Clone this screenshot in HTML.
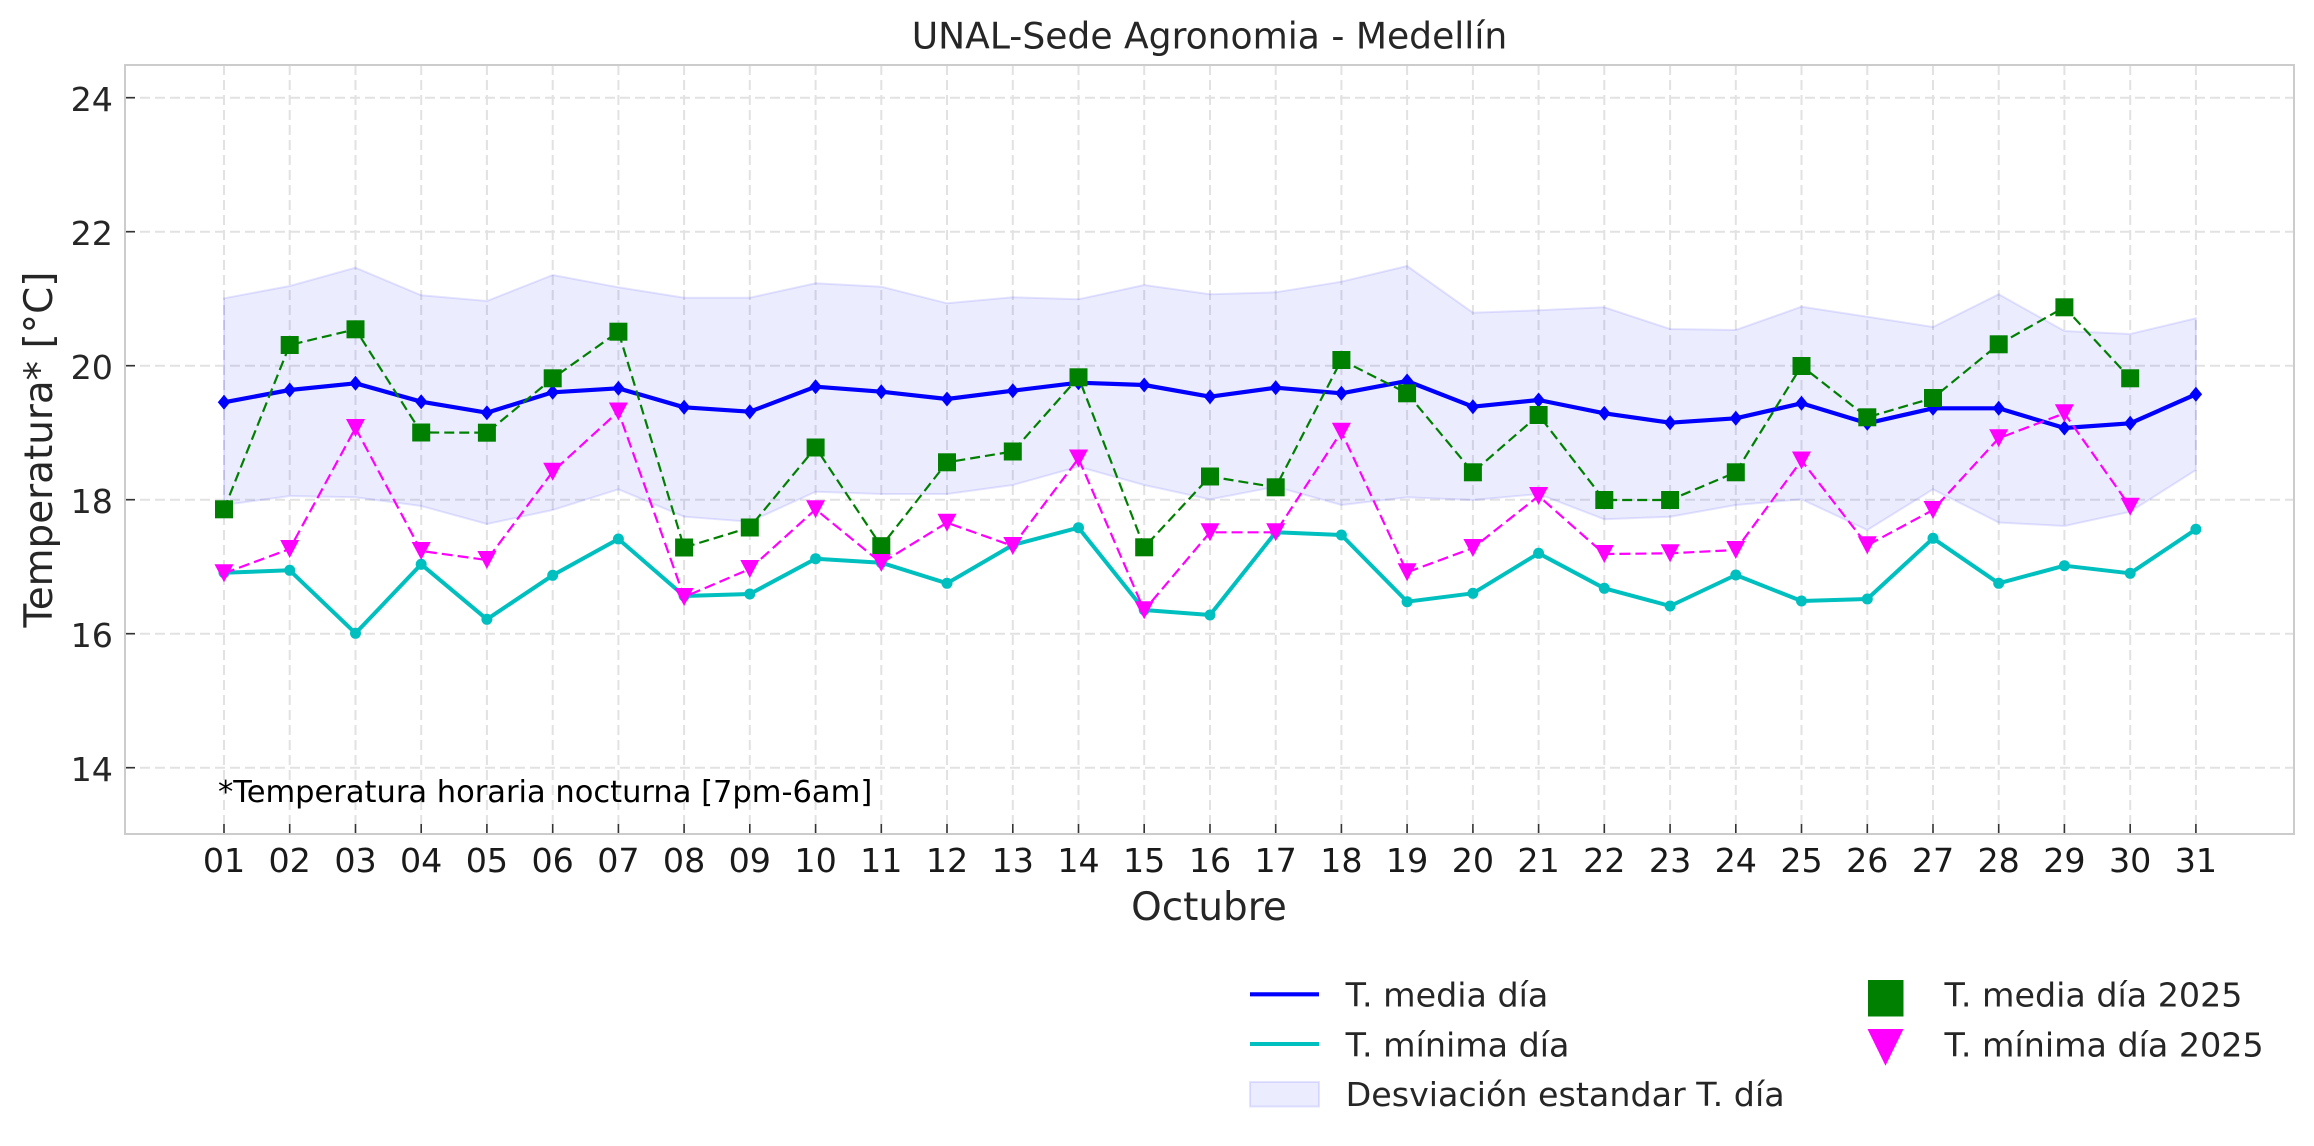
<!DOCTYPE html>
<html>
<head>
<meta charset="utf-8">
<style>
html,body{margin:0;padding:0;background:#fff;}
svg{display:block;}
text{font-family:"DejaVu Sans","Liberation Sans",sans-serif;}
</style>
</head>
<body>
<svg width="2314" height="1146" viewBox="0 0 2314 1146" xmlns="http://www.w3.org/2000/svg">
<defs>
  <marker id="mb" markerUnits="userSpaceOnUse" markerWidth="20" markerHeight="20" viewBox="-10 -10 20 20" refX="0" refY="0" overflow="visible"><path d="M0,-7.5 L6.2,0 L0,7.5 L-6.2,0Z" fill="#0000ff"/></marker>
  <marker id="mc" markerUnits="userSpaceOnUse" markerWidth="20" markerHeight="20" viewBox="-10 -10 20 20" refX="0" refY="0" overflow="visible"><circle cx="0" cy="0" r="5.5" fill="#00bfbf"/></marker>
  <marker id="mg" markerUnits="userSpaceOnUse" markerWidth="20" markerHeight="20" viewBox="-10 -10 20 20" refX="0" refY="0" overflow="visible"><rect x="-9" y="-9" width="18" height="18" fill="#008000"/></marker>
  <marker id="mm" markerUnits="userSpaceOnUse" markerWidth="20" markerHeight="20" viewBox="-10 -10 20 20" refX="0" refY="0" overflow="visible"><path d="M-9.5,-9 L9.5,-9 L0,9Z" fill="#ff00ff"/></marker>
</defs>
<rect x="0" y="0" width="2314" height="1146" fill="#fff"/>

<!-- grid -->
<g stroke="#e2e2e2" stroke-width="2" stroke-dasharray="10 5" fill="none">
  <line x1="125" y1="97.7" x2="2294" y2="97.7"/>
  <line x1="125" y1="231.7" x2="2294" y2="231.7"/>
  <line x1="125" y1="365.7" x2="2294" y2="365.7"/>
  <line x1="125" y1="499.7" x2="2294" y2="499.7"/>
  <line x1="125" y1="633.7" x2="2294" y2="633.7"/>
  <line x1="125" y1="767.7" x2="2294" y2="767.7"/>
  <line x1="224" y1="65" x2="224" y2="834"/>
  <line x1="289.7" y1="65" x2="289.7" y2="834"/>
  <line x1="355.5" y1="65" x2="355.5" y2="834"/>
  <line x1="421.2" y1="65" x2="421.2" y2="834"/>
  <line x1="486.9" y1="65" x2="486.9" y2="834"/>
  <line x1="552.7" y1="65" x2="552.7" y2="834"/>
  <line x1="618.4" y1="65" x2="618.4" y2="834"/>
  <line x1="684.1" y1="65" x2="684.1" y2="834"/>
  <line x1="749.8" y1="65" x2="749.8" y2="834"/>
  <line x1="815.6" y1="65" x2="815.6" y2="834"/>
  <line x1="881.3" y1="65" x2="881.3" y2="834"/>
  <line x1="947" y1="65" x2="947" y2="834"/>
  <line x1="1012.8" y1="65" x2="1012.8" y2="834"/>
  <line x1="1078.5" y1="65" x2="1078.5" y2="834"/>
  <line x1="1144.2" y1="65" x2="1144.2" y2="834"/>
  <line x1="1210" y1="65" x2="1210" y2="834"/>
  <line x1="1275.7" y1="65" x2="1275.7" y2="834"/>
  <line x1="1341.4" y1="65" x2="1341.4" y2="834"/>
  <line x1="1407.1" y1="65" x2="1407.1" y2="834"/>
  <line x1="1472.9" y1="65" x2="1472.9" y2="834"/>
  <line x1="1538.6" y1="65" x2="1538.6" y2="834"/>
  <line x1="1604.3" y1="65" x2="1604.3" y2="834"/>
  <line x1="1670.1" y1="65" x2="1670.1" y2="834"/>
  <line x1="1735.8" y1="65" x2="1735.8" y2="834"/>
  <line x1="1801.5" y1="65" x2="1801.5" y2="834"/>
  <line x1="1867.3" y1="65" x2="1867.3" y2="834"/>
  <line x1="1933" y1="65" x2="1933" y2="834"/>
  <line x1="1998.7" y1="65" x2="1998.7" y2="834"/>
  <line x1="2064.4" y1="65" x2="2064.4" y2="834"/>
  <line x1="2130.2" y1="65" x2="2130.2" y2="834"/>
  <line x1="2195.9" y1="65" x2="2195.9" y2="834"/>
</g>

<!-- std band -->
<polygon fill="#0000ff" fill-opacity="0.075" stroke="#0000ff" stroke-opacity="0.1" stroke-width="2" points="224,298.3 289.7,286 355.5,267.7 421.2,295.3 486.9,301 552.7,275 618.4,287.3 684.1,297.7 749.8,297.7 815.6,283.3 881.3,286.7 947,303.3 1012.8,297.3 1078.5,299.3 1144.2,285 1210,294.3 1275.7,292.3 1341.4,281.7 1407.1,266 1472.9,312.7 1538.6,310.3 1604.3,307.3 1670.1,329 1735.8,330 1801.5,306.7 1867.3,316.7 1933,327 1998.7,294.3 2064.4,331 2130.2,334 2195.9,318.3 2195.9,470 2130.2,511.7 2064.4,526 1998.7,522.5 1933,489.3 1867.3,530 1801.5,499.3 1735.8,505 1670.1,516.7 1604.3,519.3 1538.6,494 1472.9,500 1407.1,497.3 1341.4,505 1275.7,486.7 1210,499.3 1144.2,485 1078.5,466.7 1012.8,485 947,494 881.3,494 815.6,491.7 749.8,521.7 684.1,516.7 618.4,489.3 552.7,510 486.9,524 421.2,506 355.5,497.3 289.7,496 224,505"/>

<!-- T media -->
<polyline fill="none" stroke="#0000ff" stroke-width="4.2" stroke-linejoin="round" marker-start="url(#mb)" marker-mid="url(#mb)" marker-end="url(#mb)" points="224,402.3 289.7,390 355.5,383.3 421.2,401.7 486.9,412.7 552.7,392.3 618.4,388.3 684.1,407.3 749.8,411.7 815.6,386.7 881.3,391.7 947,399 1012.8,390.7 1078.5,382.7 1144.2,385 1210,396.7 1275.7,387.7 1341.4,393.3 1407.1,381 1472.9,406.7 1538.6,400 1604.3,413.3 1670.1,422.7 1735.8,418.3 1801.5,403.3 1867.3,423.3 1933,408.3 1998.7,408.3 2064.4,428 2130.2,423.3 2195.9,394.3"/>

<!-- T minima -->
<polyline fill="none" stroke="#00bfbf" stroke-width="4" stroke-linejoin="round" marker-start="url(#mc)" marker-mid="url(#mc)" marker-end="url(#mc)" points="224,572.7 289.7,570.3 355.5,633.3 421.2,564.3 486.9,619.3 552.7,575.3 618.4,539 684.1,596 749.8,594 815.6,558.7 881.3,562.7 947,583.3 1012.8,545 1078.5,527.7 1144.2,610 1210,615 1275.7,532.3 1341.4,535 1407.1,601.7 1472.9,593.3 1538.6,553.3 1604.3,588.3 1670.1,606 1735.8,575 1801.5,601 1867.3,599 1933,538.3 1998.7,583.3 2064.4,565.7 2130.2,573.3 2195.9,529.3"/>

<!-- T media 2025 -->
<polyline fill="none" stroke="#008000" stroke-width="2.2" stroke-dasharray="10 5" marker-start="url(#mg)" marker-mid="url(#mg)" marker-end="url(#mg)" points="224,509.3 289.7,345 355.5,329.3 421.2,432.5 486.9,432.7 552.7,378.3 618.4,331.7 684.1,547.5 749.8,527.5 815.6,447.5 881.3,546.2 947,462.3 1012.8,451.5 1078.5,377.3 1144.2,547.3 1210,476.5 1275.7,487.3 1341.4,360 1407.1,393.3 1472.9,472.3 1538.6,415 1604.3,500 1670.1,500 1735.8,472.3 1801.5,366 1867.3,417.3 1933,398 1998.7,344.3 2064.4,307.3 2130.2,378.3"/>

<!-- T minima 2025 -->
<polyline fill="none" stroke="#ff00ff" stroke-width="2.2" stroke-dasharray="11 5" marker-start="url(#mm)" marker-mid="url(#mm)" marker-end="url(#mm)" points="224,573.3 289.7,549 355.5,428 421.2,551 486.9,560 552.7,471.7 618.4,411.5 684.1,597 749.8,569 815.6,509.3 881.3,563 947,522.7 1012.8,546 1078.5,458.5 1144.2,610.3 1210,532.3 1275.7,532.3 1341.4,431.8 1407.1,572.3 1472.9,548 1538.6,496 1604.3,554 1670.1,553.3 1735.8,550 1801.5,460.5 1867.3,545.3 1933,510 1998.7,438.3 2064.4,413.3 2130.2,506.7"/>

<!-- spines -->
<rect x="125" y="65" width="2169" height="769" fill="none" stroke="#cccccc" stroke-width="2"/>

<!-- ticks -->
<g stroke="#333" stroke-width="1.6">
  <line x1="126" y1="97.7" x2="135" y2="97.7"/>
  <line x1="126" y1="231.7" x2="135" y2="231.7"/>
  <line x1="126" y1="365.7" x2="135" y2="365.7"/>
  <line x1="126" y1="499.7" x2="135" y2="499.7"/>
  <line x1="126" y1="633.7" x2="135" y2="633.7"/>
  <line x1="126" y1="767.7" x2="135" y2="767.7"/>
  <line x1="224" y1="824" x2="224" y2="833"/>
  <line x1="289.7" y1="824" x2="289.7" y2="833"/>
  <line x1="355.5" y1="824" x2="355.5" y2="833"/>
  <line x1="421.2" y1="824" x2="421.2" y2="833"/>
  <line x1="486.9" y1="824" x2="486.9" y2="833"/>
  <line x1="552.7" y1="824" x2="552.7" y2="833"/>
  <line x1="618.4" y1="824" x2="618.4" y2="833"/>
  <line x1="684.1" y1="824" x2="684.1" y2="833"/>
  <line x1="749.8" y1="824" x2="749.8" y2="833"/>
  <line x1="815.6" y1="824" x2="815.6" y2="833"/>
  <line x1="881.3" y1="824" x2="881.3" y2="833"/>
  <line x1="947" y1="824" x2="947" y2="833"/>
  <line x1="1012.8" y1="824" x2="1012.8" y2="833"/>
  <line x1="1078.5" y1="824" x2="1078.5" y2="833"/>
  <line x1="1144.2" y1="824" x2="1144.2" y2="833"/>
  <line x1="1210" y1="824" x2="1210" y2="833"/>
  <line x1="1275.7" y1="824" x2="1275.7" y2="833"/>
  <line x1="1341.4" y1="824" x2="1341.4" y2="833"/>
  <line x1="1407.1" y1="824" x2="1407.1" y2="833"/>
  <line x1="1472.9" y1="824" x2="1472.9" y2="833"/>
  <line x1="1538.6" y1="824" x2="1538.6" y2="833"/>
  <line x1="1604.3" y1="824" x2="1604.3" y2="833"/>
  <line x1="1670.1" y1="824" x2="1670.1" y2="833"/>
  <line x1="1735.8" y1="824" x2="1735.8" y2="833"/>
  <line x1="1801.5" y1="824" x2="1801.5" y2="833"/>
  <line x1="1867.3" y1="824" x2="1867.3" y2="833"/>
  <line x1="1933" y1="824" x2="1933" y2="833"/>
  <line x1="1998.7" y1="824" x2="1998.7" y2="833"/>
  <line x1="2064.4" y1="824" x2="2064.4" y2="833"/>
  <line x1="2130.2" y1="824" x2="2130.2" y2="833"/>
  <line x1="2195.9" y1="824" x2="2195.9" y2="833"/>
</g>

<!-- y tick labels -->
<g font-size="33.3" fill="#262626" text-anchor="end">
  <text x="113" y="111">24</text>
  <text x="113" y="245">22</text>
  <text x="113" y="379">20</text>
  <text x="113" y="513">18</text>
  <text x="113" y="647">16</text>
  <text x="113" y="781">14</text>
</g>

<!-- x tick labels -->
<g font-size="33.3" fill="#1a1a1a" text-anchor="middle">
  <text x="224" y="872">01</text>
  <text x="289.7" y="872">02</text>
  <text x="355.5" y="872">03</text>
  <text x="421.2" y="872">04</text>
  <text x="486.9" y="872">05</text>
  <text x="552.7" y="872">06</text>
  <text x="618.4" y="872">07</text>
  <text x="684.1" y="872">08</text>
  <text x="749.8" y="872">09</text>
  <text x="815.6" y="872">10</text>
  <text x="881.3" y="872">11</text>
  <text x="947" y="872">12</text>
  <text x="1012.8" y="872">13</text>
  <text x="1078.5" y="872">14</text>
  <text x="1144.2" y="872">15</text>
  <text x="1210" y="872">16</text>
  <text x="1275.7" y="872">17</text>
  <text x="1341.4" y="872">18</text>
  <text x="1407.1" y="872">19</text>
  <text x="1472.9" y="872">20</text>
  <text x="1538.6" y="872">21</text>
  <text x="1604.3" y="872">22</text>
  <text x="1670.1" y="872">23</text>
  <text x="1735.8" y="872">24</text>
  <text x="1801.5" y="872">25</text>
  <text x="1867.3" y="872">26</text>
  <text x="1933" y="872">27</text>
  <text x="1998.7" y="872">28</text>
  <text x="2064.4" y="872">29</text>
  <text x="2130.2" y="872">30</text>
  <text x="2195.9" y="872">31</text>
</g>

<!-- title & labels -->
<text x="1209.5" y="48.3" font-size="36.1" fill="#262626" text-anchor="middle">UNAL-Sede Agronomia - Medellín</text>
<text x="1209" y="920" font-size="38.9" fill="#262626" text-anchor="middle">Octubre</text>
<text transform="translate(52,449.5) rotate(-90)" font-size="38.9" fill="#262626" text-anchor="middle">Temperatura* [°C]</text>
<text x="218" y="802" font-size="30.5" fill="#000">*Temperatura horaria nocturna [7pm-6am]</text>

<!-- legend -->
<line x1="1250" y1="994.3" x2="1319" y2="994.3" stroke="#0000ff" stroke-width="4.2"/>
<line x1="1250" y1="1044" x2="1319" y2="1044" stroke="#00bfbf" stroke-width="4"/>
<rect x="1250" y="1082" width="69" height="24.5" fill="#0000ff" fill-opacity="0.075" stroke="#0000ff" stroke-opacity="0.1" stroke-width="2"/>
<rect x="1868" y="980" width="35.5" height="36.5" fill="#008000"/>
<path d="M1867.5,1029 L1903.5,1029 L1885.5,1065.7Z" fill="#ff00ff"/>
<g font-size="33.3" fill="#262626">
  <text x="1345.6" y="1006.7">T. media día</text>
  <text x="1345.6" y="1056.3">T. mínima día</text>
  <text x="1345.6" y="1105.8">Desviación estandar T. día</text>
  <text x="1944.5" y="1006.7">T. media día 2025</text>
  <text x="1944.5" y="1056.3">T. mínima día 2025</text>
</g>
</svg>
</body>
</html>
